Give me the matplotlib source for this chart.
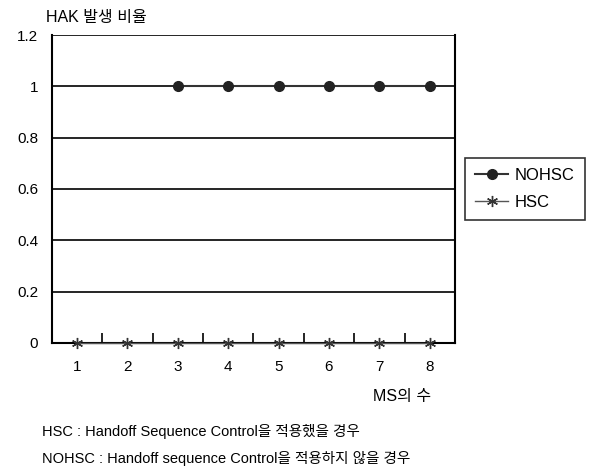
import numpy as np
import matplotlib
matplotlib.use('Agg')
from matplotlib import pyplot as plt
from matplotlib.ticker import FixedLocator

plt.rcParams['font.family'] = ['Liberation Sans', 'Noto Sans CJK KR', 'DejaVu Sans']

# data
ms_count = [1, 2, 3, 4, 5, 6, 7, 8]
nohsc = [np.nan, np.nan, 1.0, 1.0, 1.0, 1.0, 1.0, 1.0]
hsc = [0, 0, 0, 0, 0, 0, 0, 0]
y_ticks = [0, 0.2, 0.4, 0.6, 0.8, 1.0, 1.2]
y_labels = ['0', '0.2', '0.4', '0.6', '0.8', '1', '1.2']

fig = plt.figure(figsize=(5.97, 4.73), dpi=100)
ax = fig.add_axes([0.087, 0.275, 0.675, 0.651])

# horizontal grid lines
for yv in y_ticks:
    ax.axhline(yv, color='black', lw=1.2, zorder=1)

ax.plot(ms_count, nohsc, color='#333333', lw=1.5, marker='o', markersize=7,
        markerfacecolor='#222222', markeredgecolor='#222222', label='NOHSC', zorder=3)
ax.plot(ms_count, hsc, color='#555555', lw=1.0, marker=(6, 2, 0), markersize=8,
        markeredgewidth=1.0, markeredgecolor='#333333', label='HSC', zorder=5,
        clip_on=False)

ax.set_xlim(0.5, 8.5)
ax.set_ylim(0, 1.2)
ax.set_yticks(y_ticks)
ax.set_yticklabels(y_labels, fontsize=11)
ax.set_xticks(ms_count)
ax.set_xticklabels([str(m) for m in ms_count], fontsize=11)
ax.xaxis.set_minor_locator(FixedLocator(np.arange(1.5, 8.5, 1.0)))
ax.tick_params(axis='x', which='major', length=0, pad=12)
ax.tick_params(axis='x', which='minor', direction='in', length=7, width=1.2, color='black')
ax.tick_params(axis='y', length=0, pad=10)
for sp in ax.spines.values():
    sp.set_linewidth(1.5)
    sp.set_color('black')
ax.spines['top'].set_visible(False)

fig.text(0.077, 0.962, 'HAK 발생 비율', fontsize=11.5, ha='left', va='center')
fig.text(0.625, 0.161, 'MS의 수', fontsize=11.5, ha='left', va='center')
fig.text(0.07, 0.088, 'HSC : Handoff Sequence Control을 적용했을 경우', fontsize=10.5, ha='left', va='center')
fig.text(0.07, 0.031, 'NOHSC : Handoff sequence Control을 적용하지 않을 경우', fontsize=10.5, ha='left', va='center')

leg = ax.legend(loc='center left', bbox_to_anchor=(1.025, 0.5), fontsize=12,
                frameon=True, fancybox=False, edgecolor='black', handlelength=2.0,
                handletextpad=0.4, borderaxespad=0.0, borderpad=0.6, labelspacing=0.7)
leg.get_frame().set_linewidth(1.2)

fig.savefig('out.png', dpi=100)
